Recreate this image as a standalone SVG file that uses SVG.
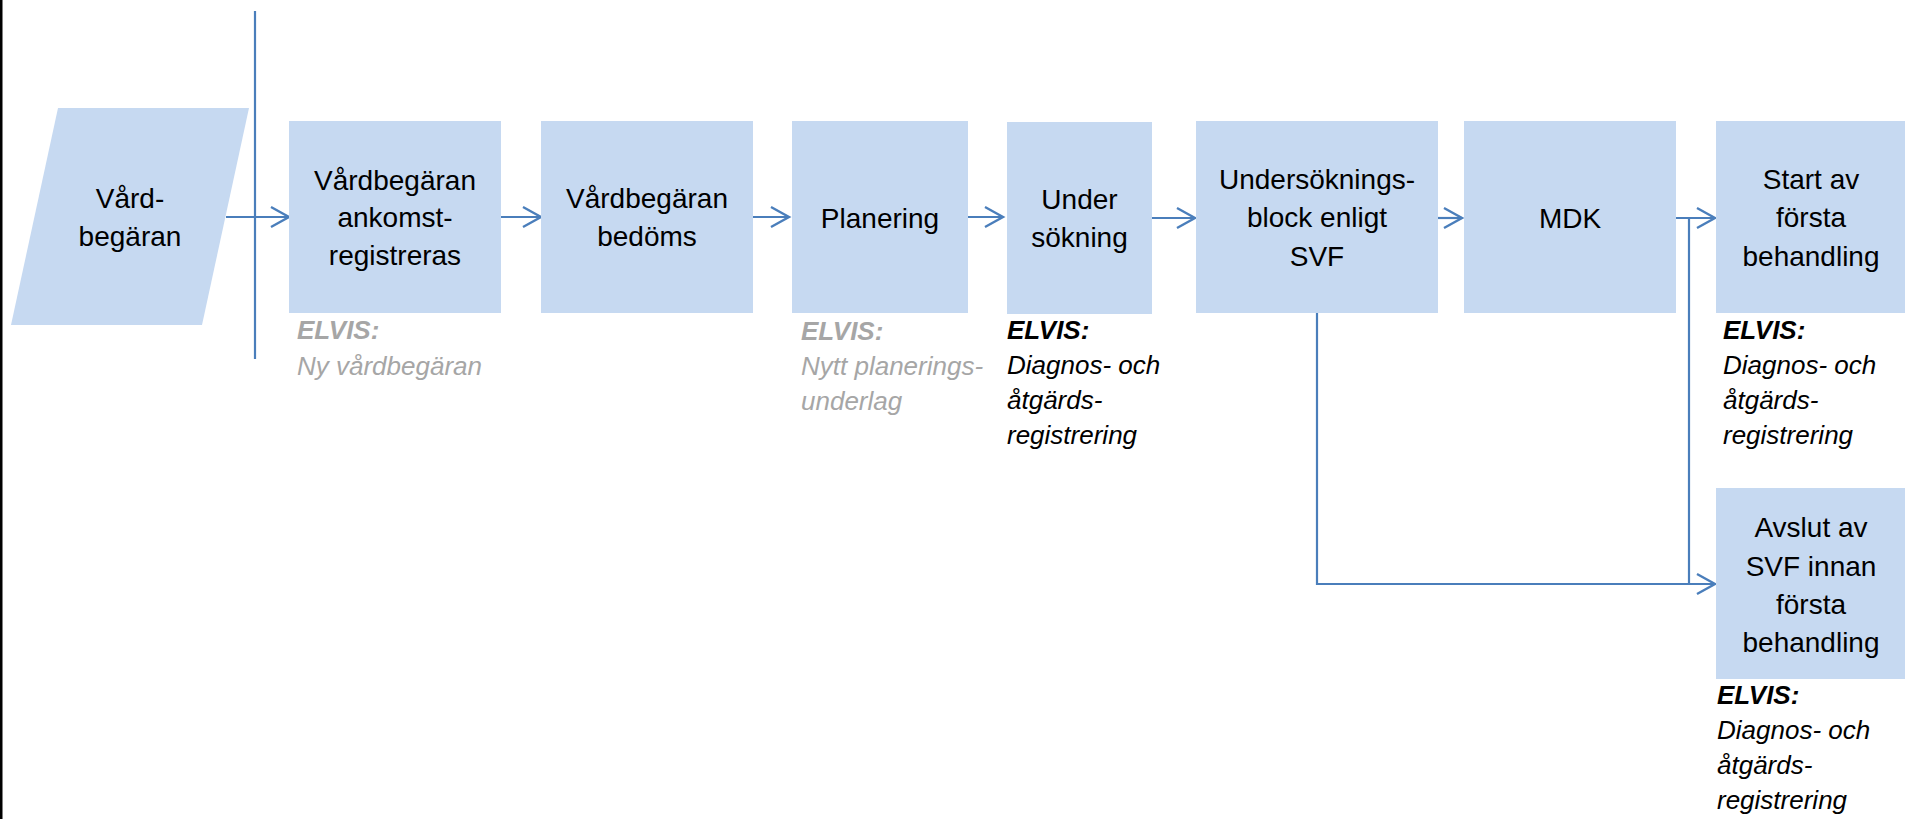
<svg xmlns="http://www.w3.org/2000/svg" width="1905" height="819" viewBox="0 0 1905 819">
<style>
.box{fill:#C6D9F1;}
.t{font-family:"Liberation Sans",Arial,sans-serif;font-size:28px;fill:#000;text-anchor:middle;}
.lb{font-family:"Liberation Sans",Arial,sans-serif;font-size:26px;font-style:italic;}
.lb .h{font-weight:bold;}
.gray{fill:#A6A6A6;}
.blk{fill:#000;}
.c{fill:none;stroke:#4A7EBB;stroke-width:2.2;}
</style>
<defs>
<marker id="arr" markerUnits="userSpaceOnUse" markerWidth="26" markerHeight="26" viewBox="-22 -13 26 26" refX="0" refY="0" orient="auto">
<path d="M-18,-10 L0,0 L-18,10" fill="none" stroke="#4A7EBB" stroke-width="2.4"/>
</marker>
</defs>
<rect x="0" y="0" width="2.5" height="819" fill="#000"/>
<g id="connectors">
<line class="c" x1="255" y1="11" x2="255" y2="359"/>
<path class="c" d="M226,217 H289" marker-end="url(#arr)"/>
<path class="c" d="M501,217 H541" marker-end="url(#arr)"/>
<path class="c" d="M753,217 H789" marker-end="url(#arr)"/>
<path class="c" d="M968,217 H1003" marker-end="url(#arr)"/>
<path class="c" d="M1152,218 H1195" marker-end="url(#arr)"/>
<path class="c" d="M1438,218 H1462" marker-end="url(#arr)"/>
<path class="c" d="M1676,218 H1715" marker-end="url(#arr)"/>
<path class="c" d="M1317,313 V584 H1715" marker-end="url(#arr)"/>
<path class="c" d="M1689,218 V584"/>
</g>
<g id="n0">
<polygon class="box" points="58,108 249,108 202,325 11,325"/>
<text class="t" x="130" y="208">Vård-</text>
<text class="t" x="130" y="246">begäran</text>
</g>
<g id="n1">
<rect class="box" x="289" y="121" width="212" height="192"/>
<text class="t" x="395" y="190">Vårdbegäran</text>
<text class="t" x="395" y="227">ankomst-</text>
<text class="t" x="395" y="265">registreras</text>
<text class="lb gray" x="297" y="339"><tspan class="h">ELVIS:</tspan><tspan x="297" y="375">Ny vårdbegäran</tspan></text>
</g>
<g id="n2">
<rect class="box" x="541" y="121" width="212" height="192"/>
<text class="t" x="647" y="208">Vårdbegäran</text>
<text class="t" x="647" y="246">bedöms</text>
</g>
<g id="n3">
<rect class="box" x="792" y="121" width="176" height="192"/>
<text class="t" x="880" y="228">Planering</text>
<text class="lb gray" x="801" y="340"><tspan class="h">ELVIS:</tspan><tspan x="801" y="375">Nytt planerings-</tspan><tspan x="801" y="410">underlag</tspan></text>
</g>
<g id="n4">
<rect class="box" x="1007" y="122" width="145" height="192"/>
<text class="t" x="1079.5" y="209">Under</text>
<text class="t" x="1079.5" y="247">sökning</text>
<text class="lb blk" x="1007" y="339"><tspan class="h">ELVIS:</tspan><tspan x="1007" y="374">Diagnos- och</tspan><tspan x="1007" y="409">åtgärds-</tspan><tspan x="1007" y="444">registrering</tspan></text>
</g>
<g id="n5">
<rect class="box" x="1196" y="121" width="242" height="192"/>
<text class="t" x="1317" y="189">Undersöknings-</text>
<text class="t" x="1317" y="227">block enligt</text>
<text class="t" x="1317" y="266">SVF</text>
</g>
<g id="n6">
<rect class="box" x="1464" y="121" width="212" height="192"/>
<text class="t" x="1570" y="228">MDK</text>
</g>
<g id="n7">
<rect class="box" x="1716" y="121" width="189" height="192"/>
<text class="t" x="1811" y="189">Start av</text>
<text class="t" x="1811" y="227">första</text>
<text class="t" x="1811" y="266">behandling</text>
<text class="lb blk" x="1723" y="339"><tspan class="h">ELVIS:</tspan><tspan x="1723" y="374">Diagnos- och</tspan><tspan x="1723" y="409">åtgärds-</tspan><tspan x="1723" y="444">registrering</tspan></text>
</g>
<g id="n8">
<rect class="box" x="1716" y="488" width="189" height="191"/>
<text class="t" x="1811" y="537">Avslut av</text>
<text class="t" x="1811" y="576">SVF innan</text>
<text class="t" x="1811" y="614">första</text>
<text class="t" x="1811" y="652">behandling</text>
<text class="lb blk" x="1717" y="704"><tspan class="h">ELVIS:</tspan><tspan x="1717" y="739">Diagnos- och</tspan><tspan x="1717" y="774">åtgärds-</tspan><tspan x="1717" y="809">registrering</tspan></text>
</g>
</svg>
